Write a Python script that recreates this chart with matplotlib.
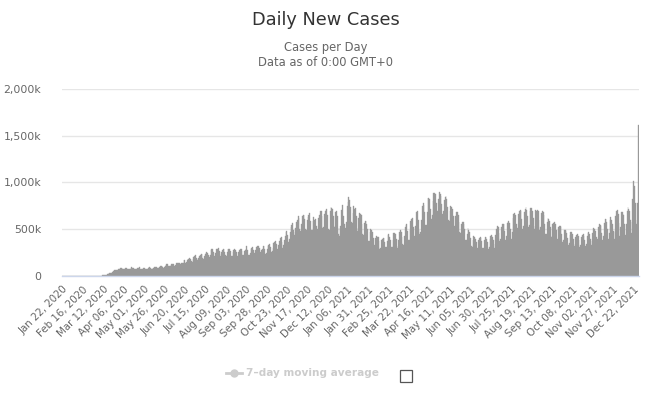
import matplotlib
matplotlib.use("Agg")
import matplotlib.pyplot as plt
from matplotlib.lines import Line2D
from matplotlib.patches import Rectangle
from matplotlib.ticker import FuncFormatter

# Daily new cases (thousands), one row per week, starting Wed Jan 22, 2020
cases_2020_k = [
    1, 0, 0, 1, 1, 1, 2,
    2, 2, 2, 2, 3, 3, 4,
    4, 3, 3, 3, 3, 3, 2,
    2, 5, 4, 3, 2, 2, 2,
    1, 1, 1, 1, 2, 1, 1,
    1, 1, 2, 2, 2, 2, 2,
    3, 3, 4, 4, 4, 4, 5,
    7, 8, 10, 11, 12, 14, 17,
    19, 27, 32, 34, 34, 39, 42,
    50, 62, 62, 66, 59, 62, 74,
    78, 82, 84, 82, 72, 70, 75,
    86, 87, 89, 80, 72, 71, 70,
    82, 92, 85, 85, 76, 72, 74,
    80, 88, 88, 95, 79, 72, 73,
    80, 90, 88, 87, 77, 75, 80,
    90, 92, 96, 88, 76, 75, 82,
    88, 95, 96, 98, 80, 84, 88,
    100, 105, 108, 104, 95, 90, 95,
    105, 116, 123, 126, 112, 102, 106,
    122, 130, 130, 130, 110, 105, 118,
    134, 138, 141, 138, 120, 124, 143,
    143, 144, 174, 172, 134, 145, 168,
    177, 182, 191, 186, 160, 155, 178,
    208, 210, 220, 197, 182, 174, 193,
    213, 228, 238, 236, 197, 187, 213,
    230, 245, 262, 247, 222, 204, 227,
    283, 285, 288, 259, 215, 210, 250,
    290, 288, 298, 269, 232, 211, 254,
    279, 292, 286, 262, 229, 213, 255,
    285, 290, 288, 267, 212, 209, 258,
    275, 285, 274, 258, 218, 216, 259,
    282, 289, 290, 270, 225, 222, 263,
    282, 286, 318, 276, 226, 220, 246,
    284, 300, 310, 283, 246, 233, 275,
    306, 318, 323, 295, 242, 254, 280,
    290, 318, 326, 292, 240, 250, 285,
    319, 327, 342, 307, 254, 263, 303,
    355, 360, 370, 340, 278, 290, 335,
    376, 404, 412, 368, 300, 328, 390,
    432, 470, 485, 440, 367, 400, 474,
    520, 545, 570, 490, 436, 468, 510,
    580, 600, 642, 620, 503, 480, 560,
    645, 655, 650, 610, 506, 495, 600,
    630, 650, 670, 590, 489, 487, 590,
    630, 600, 610, 540, 470, 500, 620,
    655, 700, 690, 640, 510, 520, 660,
    690, 705, 718, 650, 505, 490, 690,
    735, 725, 720, 640, 520, 540, 680,
    690, 640, 445, 510, 430, 540, 710,
    760, 640, 555, 560, 510, 580, 745,
]
cases_2021_k = [
    790, 840, 815, 740, 580, 570, 670,
    750, 720, 730, 640, 510, 480, 620,
    670, 660, 655, 560, 450, 440, 570,
    590, 585, 555, 500, 375, 375, 470,
    500, 495, 470, 410, 330, 320, 410,
    430, 415, 420, 370, 290, 300, 390,
    400, 410, 410, 365, 305, 312, 370,
    440, 445, 420, 390, 310, 305, 385,
    455, 460, 445, 400, 320, 300, 390,
    470, 490, 475, 420, 345, 335, 430,
    520, 545, 560, 480, 380, 385, 490,
    590, 610, 620, 520, 430, 430, 540,
    680, 690, 600, 490, 450, 470, 600,
    750, 780, 760, 680, 550, 550, 680,
    830, 835, 820, 720, 610, 650, 800,
    890, 885, 880, 780, 660, 690, 820,
    895, 880, 860, 770, 660, 690, 810,
    850, 860, 820, 740, 600, 590, 690,
    750, 740, 720, 640, 530, 540, 640,
    680, 680, 650, 580, 470, 460, 560,
    580, 575, 560, 500, 390, 380, 450,
    510, 495, 470, 410, 320, 310, 380,
    430, 420, 400, 360, 290, 300, 380,
    410, 420, 405, 370, 295, 300, 390,
    420, 415, 400, 365, 290, 315, 395,
    430, 440, 420, 380, 300, 340, 440,
    500, 540, 520, 460, 370, 400, 520,
    560, 555, 560, 480, 390, 430, 570,
    580, 590, 565, 500, 400, 470, 620,
    660, 670, 650, 560, 460, 510, 660,
    700, 710, 690, 610, 500, 530, 680,
    720, 740, 710, 640, 520, 550, 700,
    730, 725, 700, 620, 500, 540, 710,
    700, 705, 690, 600, 490, 520, 670,
    690, 680, 650, 560, 450, 450, 580,
    620, 610, 590, 520, 420, 430, 560,
    570, 580, 560, 490, 390, 400, 520,
    530, 540, 520, 450, 360, 380, 490,
    490, 480, 465, 410, 330, 350, 440,
    470, 475, 450, 400, 320, 340, 420,
    440, 445, 430, 380, 310, 330, 420,
    440, 445, 430, 390, 320, 340, 430,
    460, 470, 450, 400, 330, 370, 460,
    510, 500, 480, 420, 340, 400, 520,
    556, 550, 530, 460, 380, 430, 570,
    610, 610, 580, 500, 400, 460, 600,
    628, 600, 560, 480, 400, 470, 640,
    690, 707, 660, 570, 430, 520, 680,
    682, 664, 650, 560, 440, 560, 700,
    736, 720, 690, 600, 460, 580, 820,
    1012, 958, 780, 560, 600, 780, 1620,
]

tick_labels = [
    "Jan 22, 2020", "Feb 16, 2020", "Mar 12, 2020", "Apr 06, 2020",
    "May 01, 2020", "May 26, 2020", "Jun 20, 2020", "Jul 15, 2020",
    "Aug 09, 2020", "Sep 03, 2020", "Sep 28, 2020", "Oct 23, 2020",
    "Nov 17, 2020", "Dec 12, 2020", "Jan 06, 2021", "Jan 31, 2021",
    "Feb 25, 2021", "Mar 22, 2021", "Apr 16, 2021", "May 11, 2021",
    "Jun 05, 2021", "Jun 30, 2021", "Jul 25, 2021", "Aug 19, 2021",
    "Sep 13, 2021", "Oct 08, 2021", "Nov 02, 2021", "Nov 27, 2021",
    "Dec 22, 2021",
]
tick_step = 25
y_ticks = [0, 500_000, 1_000_000, 1_500_000, 2_000_000]

values = [v * 1000 for v in cases_2020_k + cases_2021_k]
n = len(values)
x = list(range(n))

W, H = 652, 395
fig = plt.figure(figsize=(W / 100, H / 100), dpi=100)
ax = fig.add_axes([62 / W, 1 - 276 / H, (639 - 62) / W, (276 - 89) / H])

ax.bar(x, values, width=1.0, color="#999999", edgecolor="#999999",
       linewidth=0.25, zorder=2)

ax.set_xlim(-0.5, n - 0.5)
ax.set_ylim(0, 2_000_000)
ax.set_yticks(y_ticks)
ax.yaxis.set_major_formatter(FuncFormatter(
    lambda v, p: "0" if v == 0 else f"{int(v/1000):,}k"))
ax.grid(axis="y", color="#e6e6e6", linewidth=1, zorder=0)
ax.set_axisbelow(True)
for s in ["top", "right", "left"]:
    ax.spines[s].set_visible(False)
ax.spines["bottom"].set_color("#ccd6eb")
ax.spines["bottom"].set_linewidth(1)
ax.spines["bottom"].set_zorder(3)

ax.tick_params(axis="y", length=0, pad=15, labelsize=7.8, labelcolor="#666666")
ax.set_xticks([i * tick_step for i in range(len(tick_labels))])
ax.set_xticklabels(tick_labels, rotation=45, ha="right",
                   rotation_mode="anchor", fontsize=7.4, color="#666666")
ax.tick_params(axis="x", length=0, pad=6)

fig.text(0.5, 1 - 20 / H, "Daily New Cases", ha="center", va="center",
         fontsize=12.8, color="#333333")
fig.text(0.5, 1 - 47 / H, "Cases per Day", ha="center", va="center",
         fontsize=8.3, color="#666666")
fig.text(0.5, 1 - 62 / H, "Data as of 0:00 GMT+0", ha="center", va="center",
         fontsize=8.3, color="#666666")

# Legend (hidden series)
fig.add_artist(Line2D([226 / W, 242 / W], [1 - 373 / H, 1 - 373 / H],
                      color="#cccccc", linewidth=2,
                      transform=fig.transFigure))
fig.add_artist(Line2D([234 / W], [1 - 373 / H], color="#cccccc", marker="o",
                      markersize=5, linestyle="none", transform=fig.transFigure))
fig.text(246 / W, 1 - 373 / H, "7\u2013day moving average", ha="left",
         va="center", fontsize=7.6, fontweight="bold", color="#cccccc")
fig.add_artist(Rectangle((400 / W, 1 - 382 / H), 12 / W, 12 / H,
                         facecolor="white", edgecolor="#555555",
                         linewidth=0.9, transform=fig.transFigure))

fig.savefig("out.png", dpi=100)
